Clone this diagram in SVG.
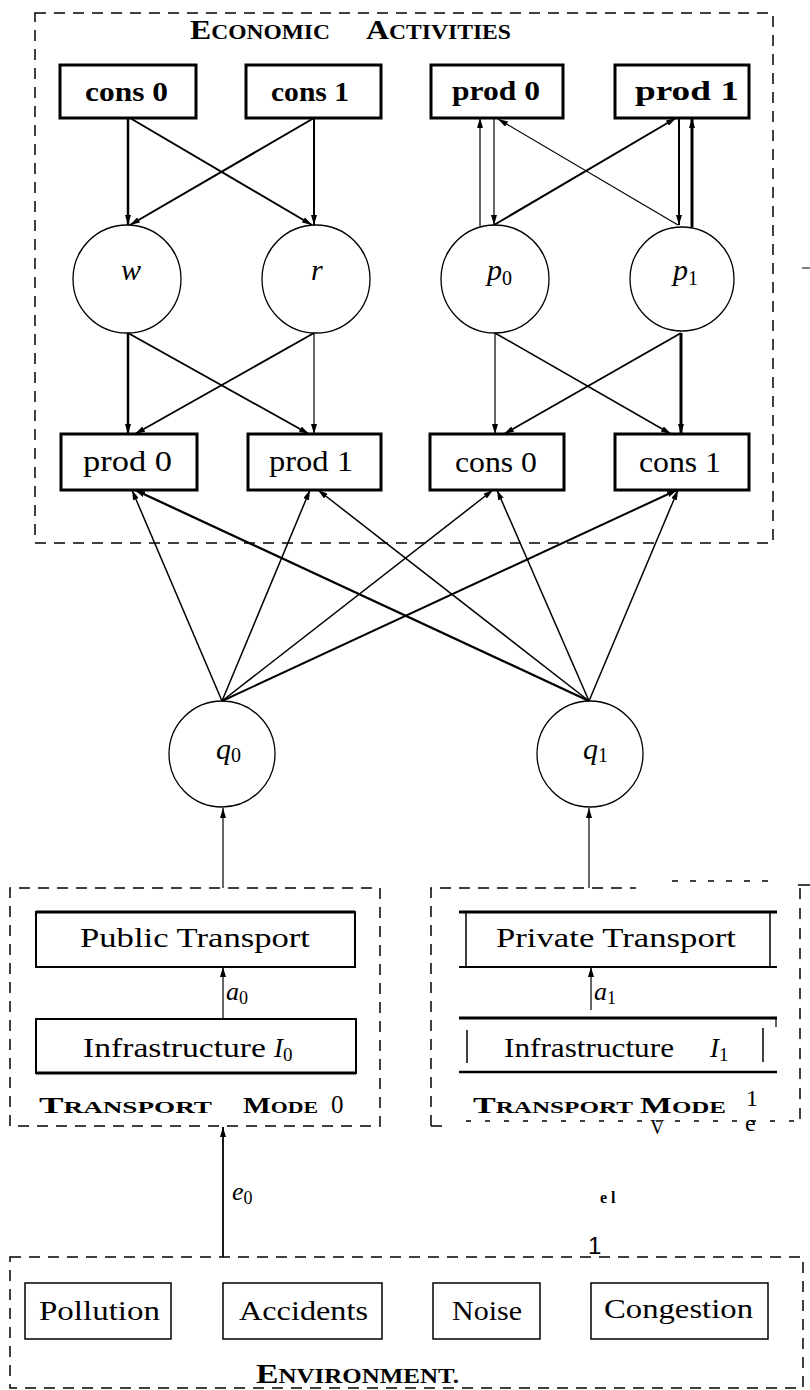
<svg xmlns="http://www.w3.org/2000/svg" width="810" height="1390" viewBox="0 0 810 1390">
<defs>
<style>
.bg{fill:#fff}
.dash{fill:none;stroke:#000;stroke-width:1.5;stroke-dasharray:11 8}
.box3{fill:#fff;stroke:#000;stroke-width:3}
.box2{fill:#fff;stroke:#000;stroke-width:2}
.box15{fill:#fff;stroke:#000;stroke-width:1.5}
.ln{fill:none;stroke:#000;stroke-width:1.2}
.circ{fill:#fff;stroke:#000;stroke-width:1.3}
text{font-family:"Liberation Serif","DejaVu Serif",serif;fill:#000}
.b{font-weight:bold}
.it{font-style:italic}
.sans{font-family:"Liberation Sans","DejaVu Sans",sans-serif}
</style>
<marker id="ah" viewBox="0 0 10 6" refX="10" refY="3" markerWidth="10" markerHeight="6" markerUnits="userSpaceOnUse" orient="auto">
<path d="M0,0 L10,3 L0,6 z" fill="#000"/>
</marker>
</defs>
<rect class="bg" x="0" y="0" width="810" height="1390"/>

<g id="economic-activities">
<rect class="dash" x="35" y="13" width="738" height="530"/>
<text class="b" x="190" y="39" textLength="140" lengthAdjust="spacingAndGlyphs" font-size="27">E<tspan font-size="20">CONOMIC</tspan></text>
<text class="b" x="366" y="39" textLength="145" lengthAdjust="spacingAndGlyphs" font-size="27">A<tspan font-size="20">CTIVITIES</tspan></text>
<line x1="802" y1="268" x2="810" y2="268" stroke="#000" stroke-width="1"/>
</g>

<g id="cons0-top"><rect class="box3" x="60" y="65" width="136" height="53"/><text class="b" x="85" y="101" font-size="28" textLength="83" lengthAdjust="spacingAndGlyphs">cons 0</text></g>
<g id="cons1-top"><rect class="box3" x="246" y="65" width="135" height="53"/><text class="b" x="271" y="101" font-size="28" textLength="78" lengthAdjust="spacingAndGlyphs">cons 1</text></g>
<g id="prod0-top"><rect class="box3" x="431" y="65" width="132" height="53"/><text class="b" x="452" y="100" font-size="28" textLength="88" lengthAdjust="spacingAndGlyphs">prod 0</text></g>
<g id="prod1-top"><rect class="box3" x="615" y="65" width="134" height="53"/><text class="b" x="635" y="100" font-size="28" textLength="104" lengthAdjust="spacingAndGlyphs">prod   1</text></g>

<g id="w"><circle class="circ" cx="127" cy="279" r="54"/><text class="it" x="121" y="280" font-size="30">w</text></g>
<g id="r"><circle class="circ" cx="316" cy="279" r="54"/><text class="it" x="311" y="280" font-size="30">r</text></g>
<g id="p0"><circle class="circ" cx="495" cy="279" r="54"/><text class="it" x="487" y="280" font-size="30">p<tspan font-style="normal" font-size="20" dy="5">0</tspan></text></g>
<g id="p1"><circle class="circ" cx="682" cy="279" r="52"/><text class="it" x="673" y="280" font-size="30">p<tspan font-style="normal" font-size="20" dy="5">1</tspan></text></g>

<g id="prod0-bot"><rect class="box3" x="61" y="434" width="136" height="56"/><text x="83" y="471" font-size="29" textLength="89" lengthAdjust="spacingAndGlyphs">prod 0</text></g>
<g id="prod1-bot"><rect class="box3" x="248" y="434" width="133" height="56"/><text x="269" y="471" font-size="29" textLength="84" lengthAdjust="spacingAndGlyphs">prod  1</text></g>
<g id="cons0-bot"><rect class="box3" x="430" y="434" width="134" height="56"/><text x="455" y="472" font-size="29" textLength="82" lengthAdjust="spacingAndGlyphs">cons 0</text></g>
<g id="cons1-bot"><rect class="box3" x="615" y="434" width="134" height="56"/><text x="639" y="472" font-size="29" textLength="82" lengthAdjust="spacingAndGlyphs">cons 1</text></g>

<g id="q0"><circle class="circ" cx="222" cy="754" r="53"/><text class="it" x="216" y="759" font-size="30">q<tspan font-style="normal" font-size="20" dy="3">0</tspan></text></g>
<g id="q1"><circle class="circ" cx="590" cy="754" r="53"/><text class="it" x="583" y="759" font-size="30">q<tspan font-style="normal" font-size="20" dy="3">1</tspan></text></g>

<g id="transport-mode-0">
<path class="dash" d="M10,1126 L10,888 L380,888 L380,1126 Z"/>
<text class="b" x="39" y="1113" font-size="23" textLength="173" lengthAdjust="spacingAndGlyphs">T<tspan font-size="17">RANSPORT</tspan></text>
<text class="b" x="243" y="1113" font-size="23" textLength="75" lengthAdjust="spacingAndGlyphs">M<tspan font-size="17">ODE</tspan></text>
<text x="331" y="1113" font-size="25">0</text>
</g>
<g id="public-transport"><rect class="box2" x="36" y="912" width="319" height="55"/><line x1="36" y1="912" x2="355" y2="912" stroke="#000" stroke-width="3"/><text x="80" y="947" font-size="27" textLength="230" lengthAdjust="spacingAndGlyphs">Public Transport</text></g>
<g id="infrastructure-0"><rect class="box2" x="36" y="1019" width="320" height="54"/><line x1="36" y1="1073" x2="356" y2="1073" stroke="#000" stroke-width="3"/><text x="83" y="1057" font-size="27" textLength="183" lengthAdjust="spacingAndGlyphs">Infrastructure</text><text class="it" x="274" y="1057" font-size="27">I<tspan font-style="normal" font-size="19" dy="4">0</tspan></text></g>

<g id="transport-mode-1">
<path class="dash" d="M431,1126 L431,888 L636,888"/>
<path fill="none" stroke="#000" stroke-width="1.5" stroke-dasharray="6 12" d="M672,881 L770,881"/>
<path fill="none" stroke="#000" stroke-width="1.5" d="M798,885 L810,885"/>
<path fill="none" stroke="#000" stroke-width="1.5" stroke-dasharray="11 9" d="M800,888 L800,1128"/>
<path fill="none" stroke="#000" stroke-width="1.5" d="M431,1126 L442,1126"/>
<path fill="none" stroke="#000" stroke-width="1.3" stroke-dasharray="5 14" d="M466,1121 L800,1121"/>
<text class="b" x="473" y="1113" font-size="23" textLength="160" lengthAdjust="spacingAndGlyphs">T<tspan font-size="17">RANSPORT</tspan></text>
<text class="b" x="640" y="1113" font-size="23" textLength="86" lengthAdjust="spacingAndGlyphs">M<tspan font-size="17">ODE</tspan></text>
<text x="746" y="1106" font-size="24">1</text>
<text x="745" y="1131" font-size="24">e</text>
<text x="650" y="1134" font-size="20">V</text>
</g>
<g id="private-transport">
<line x1="459" y1="912" x2="777" y2="912" stroke="#000" stroke-width="3"/>
<line x1="459" y1="967" x2="777" y2="967" stroke="#000" stroke-width="2"/>
<line x1="466" y1="912" x2="466" y2="967" stroke="#000" stroke-width="1.5"/>
<line x1="770" y1="912" x2="770" y2="967" stroke="#000" stroke-width="1.5"/>
<text x="496" y="947" font-size="27" textLength="240" lengthAdjust="spacingAndGlyphs">Private Transport</text>
</g>
<g id="infrastructure-1">
<line x1="459" y1="1018" x2="777" y2="1018" stroke="#000" stroke-width="3"/>
<line x1="459" y1="1072" x2="777" y2="1072" stroke="#000" stroke-width="2.5"/>
<line x1="467" y1="1030" x2="467" y2="1063" stroke="#000" stroke-width="1.5"/>
<line x1="763" y1="1028" x2="763" y2="1062" stroke="#000" stroke-width="1.5"/>
<line x1="776" y1="1018" x2="776" y2="1027" stroke="#000" stroke-width="1.2"/>
<text x="504" y="1057" font-size="27" textLength="170" lengthAdjust="spacingAndGlyphs">Infrastructure</text>
<text class="it" x="710" y="1057" font-size="27">I<tspan font-style="normal" font-size="19" dy="4">1</tspan></text>
</g>

<g id="environment">
<path class="dash" d="M10,1257 L803,1257 L803,1388 L10,1388 Z"/>
<text class="b" x="256" y="1383" font-size="27" textLength="203" lengthAdjust="spacingAndGlyphs">E<tspan font-size="20">NVIRONMENT.</tspan></text>
</g>
<g id="pollution"><rect class="box15" x="25" y="1283" width="146" height="56"/><text x="39" y="1320" font-size="28" textLength="121" lengthAdjust="spacingAndGlyphs">Pollution</text></g>
<g id="accidents"><rect class="box15" x="223" y="1283" width="159" height="56"/><text x="239" y="1320" font-size="28" textLength="129" lengthAdjust="spacingAndGlyphs">Accidents</text></g>
<g id="noise"><rect class="box15" x="433" y="1283" width="107" height="56"/><text x="452" y="1320" font-size="28" textLength="70" lengthAdjust="spacingAndGlyphs">Noise</text></g>
<g id="congestion"><rect class="box15" x="591" y="1283" width="177" height="56"/><text x="604" y="1318" font-size="28" textLength="149" lengthAdjust="spacingAndGlyphs">Congestion</text></g>

<g id="connectors" marker-end="url(#ah)">
<line class="ln" x1="128" y1="118" x2="128" y2="225" style="stroke-width:2.5"/>
<line class="ln" x1="130" y1="118" x2="312" y2="225" style="stroke-width:2"/>
<line class="ln" x1="314" y1="118" x2="314" y2="225" style="stroke-width:2"/>
<line class="ln" x1="314" y1="118" x2="130" y2="225" style="stroke-width:2"/>
<line class="ln" x1="480" y1="226" x2="480" y2="118"/>
<line class="ln" x1="494" y1="118" x2="494" y2="225"/>
<line class="ln" x1="678" y1="225" x2="498" y2="119"/>
<line class="ln" x1="494" y1="225" x2="676" y2="118" style="stroke-width:2"/>
<line class="ln" x1="679" y1="118" x2="679" y2="225" style="stroke-width:2"/>
<line class="ln" x1="692" y1="227" x2="692" y2="118" style="stroke-width:3"/>

<line class="ln" x1="128" y1="333" x2="128" y2="434" style="stroke-width:2.5"/>
<line class="ln" x1="128" y1="333" x2="309" y2="434" style="stroke-width:1.8"/>
<line class="ln" x1="314" y1="333" x2="314" y2="434"/>
<line class="ln" x1="314" y1="333" x2="135" y2="434" style="stroke-width:1.8"/>
<line class="ln" x1="495" y1="333" x2="495" y2="434"/>
<line class="ln" x1="495" y1="333" x2="671" y2="434" style="stroke-width:1.5"/>
<line class="ln" x1="681" y1="333" x2="681" y2="434" style="stroke-width:3"/>
<line class="ln" x1="681" y1="333" x2="504" y2="434" style="stroke-width:1.8"/>

<line class="ln" x1="222" y1="701" x2="132" y2="490" style="stroke-width:1.5"/>
<line class="ln" x1="222" y1="701" x2="310" y2="490" style="stroke-width:1.5"/>
<line class="ln" x1="222" y1="701" x2="493" y2="490" style="stroke-width:1.5"/>
<line class="ln" x1="222" y1="701" x2="677" y2="490" style="stroke-width:2"/>
<line class="ln" x1="589" y1="701" x2="135" y2="490" style="stroke-width:2.3"/>
<line class="ln" x1="589" y1="701" x2="318" y2="490" style="stroke-width:1.5"/>
<line class="ln" x1="589" y1="701" x2="497" y2="490" style="stroke-width:1.5"/>
<line class="ln" x1="589" y1="701" x2="678" y2="490" style="stroke-width:1.5"/>

<line class="ln" x1="223" y1="888" x2="223" y2="808"/>
<line class="ln" x1="589" y1="888" x2="589" y2="808"/>
<line class="ln" x1="223" y1="1019" x2="223" y2="967"/>
<line class="ln" x1="591" y1="1010" x2="591" y2="967"/>
<line class="ln" x1="223" y1="1257" x2="223" y2="1127" style="stroke-width:1.8"/>
</g>

<g id="connector-labels">
<text class="it" x="226" y="1000" font-size="26">a<tspan font-style="normal" font-size="18" dy="4">0</tspan></text>
<text class="it" x="594" y="1000" font-size="26">a<tspan font-style="normal" font-size="18" dy="4">1</tspan></text>
<text class="it" x="232" y="1200" font-size="26">e<tspan font-style="normal" font-size="18" dy="4">0</tspan></text>
<text class="b" x="600" y="1203" font-size="16">e l</text>
<text class="sans" x="588" y="1254" font-size="24">1</text>
</g>
</svg>
